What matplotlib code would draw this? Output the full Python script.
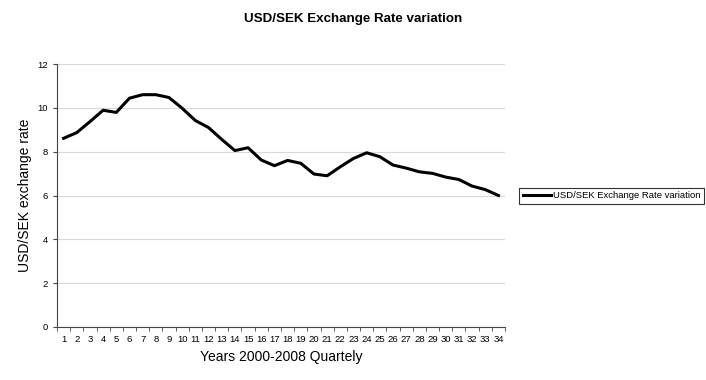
import numpy as np
from matplotlib import pyplot as plt

quarters = list(range(1, 35))
rates = [8.61, 8.87, 9.37, 9.89, 9.79, 10.44, 10.60, 10.60, 10.47, 9.98,
         9.42, 9.10, 8.56, 8.05, 8.18, 7.62, 7.36, 7.60, 7.47, 6.98,
         6.90, 7.31, 7.69, 7.95, 7.77, 7.39, 7.25, 7.08, 7.01, 6.84,
         6.73, 6.43, 6.27, 6.00]
y_ticks = [0, 2, 4, 6, 8, 10, 12]

plt.rcParams['font.family'] = ['Liberation Sans', 'DejaVu Sans']

fig = plt.figure(figsize=(7.06, 3.80), dpi=100)
ax = fig.add_axes([57 / 706, 53 / 380, 448 / 706, 263 / 380])

ax.plot(quarters, rates, color='black', linewidth=2.2, label='USD/SEK Exchange Rate variation')

ax.set_xlim(0.5, 34.5)
ax.set_ylim(0, 12)
ax.set_yticks(y_ticks)
ax.set_xticks(quarters)
ax.set_xticklabels([str(q) for q in quarters], fontsize=6.8)
ax.set_xticks(np.arange(0.5, 35, 1), minor=True)
ax.tick_params(axis='x', which='major', length=0, pad=6)
ax.tick_params(axis='x', which='minor', length=3, direction='out', color='#444444')
ax.tick_params(axis='y', labelsize=6.8, length=3, direction='out', color='#444444')

ax.grid(axis='y', color='#d9d9d9', linewidth=0.8)
ax.set_axisbelow(True)
for side in ['top', 'right']:
    ax.spines[side].set_visible(False)
ax.spines['left'].set_color('#444444')
ax.spines['bottom'].set_color('#444444')

ax.set_xlabel('Years 2000-2008 Quartely', fontsize=10)
ax.set_ylabel('USD/SEK exchange rate', fontsize=10)
fig.text(0.5, 0.95, 'USD/SEK Exchange Rate variation', ha='center', va='center',
         fontsize=9.6, fontweight='bold')

# legend box sits right of the plot, roughly at x=519..702 px
leg = ax.legend(loc='center left', bbox_to_anchor=((519 - 57) / 448, (327 - 196) / 263),
                fontsize=6.8, frameon=True, fancybox=False, edgecolor='black',
                handlelength=3.0, handletextpad=0.2, borderpad=0.4, borderaxespad=0)
leg.get_frame().set_linewidth(0.8)

plt.savefig('out.png', dpi=100)
